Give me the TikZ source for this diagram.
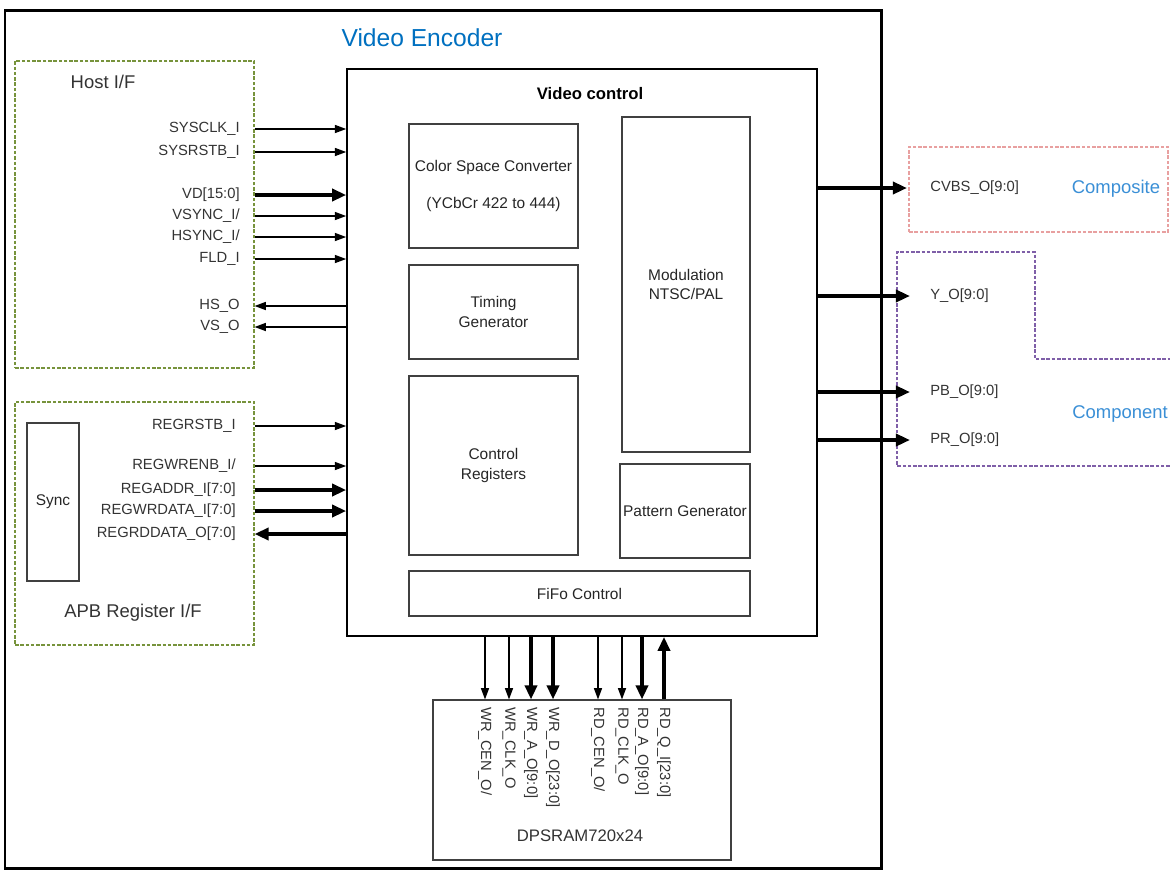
\documentclass[tikz,border=0pt]{standalone}
\usepackage{fontspec}
\setmainfont{Liberation Sans}
\usepackage{xcolor}
\usepackage{tikz}
\usetikzlibrary{arrows.meta,positioning,fit}

\definecolor{encblue}{HTML}{0070C0}
\definecolor{outblue}{HTML}{3A8FD6}
\definecolor{ifgreen}{HTML}{77933C}
\definecolor{cvbspink}{HTML}{E8A0A0}
\definecolor{cmppurple}{HTML}{7F5FA8}

\begin{document}
\begin{tikzpicture}[x=0.02cm, y=-0.02cm,
  blk/.style={draw=black!75, line width=0.6pt, inner sep=0pt},
  btxt/.style={align=center, inner sep=0pt, font=\fontsize{8.8}{11}\selectfont, text=black!85},
  ifbox/.style={draw=ifgreen, dash pattern=on 2pt off 1pt, line width=0.6pt, inner sep=0pt},
  ttl/.style={font=\fontsize{10.5}{12}\selectfont, text=black!80, inner sep=0pt},
  sig/.style={font=\fontsize{8.4}{10}\selectfont, text=black!80, inner sep=0pt},
  wire/.style={-{Triangle[length=6.5pt,width=4.6pt]}, line width=0.8pt},
  bus/.style={-{Triangle[length=8pt,width=6.8pt]}, line width=2.2pt}
]
\useasboundingbox (0,0) rectangle (1170,870);

% outer block
\node[fit={(5,10) (881,868)}, draw, line width=1.7pt, inner sep=0pt] (enc) {};
\node[font=\fontsize{14}{16}\selectfont, text=encblue] (enctitle) at (422,38) {Video Encoder};

% interfaces
\node[ifbox, fit={(15,61) (254,368)}] (hostif) {};
\node[ttl] (hosttitle) at (103,82) {Host I/F};
\node[ifbox, fit={(15,402) (254,645)}] (apbif) {};
\node[blk, fit={(27,423) (79,581)}] (sync) {};
\node[btxt] (synctxt) at (sync.center) {Sync};
\node[ttl] (apbtitle) at (133,613) {APB Register I/F};

% video control
\node[fit={(347,69) (817,636)}, draw, line width=0.9pt, inner sep=0pt] (vctrl) {};
\node[font=\bfseries\fontsize{9.5}{11}\selectfont] (vctitle) at (590,94) {Video control};
\node[blk, fit={(409,124) (578,248)}] (csc) {};
\node[blk, fit={(409,265) (578,359)}] (timing) {};
\node[blk, fit={(409,376) (578,555)}] (ctrlreg) {};
\node[blk, fit={(622,117) (750,452)}] (modul) {};
\node[blk, fit={(620,464) (750,558)}] (pattern) {};
\node[blk, fit={(409,571) (750,616)}] (fifo) {};
\node[btxt] (csctxt) at (csc.center) {Color Space Converter\\[10pt](YCbCr 422 to 444)};
\node[btxt] (timingtxt) at (timing.center) {Timing\\Generator};
\node[btxt] (ctrlregtxt) at (ctrlreg.center) {Control\\Registers};
\node[btxt] (modultxt) at (modul.center) {Modulation\\NTSC/PAL};
\node[btxt] (patterntxt) at (pattern.center) {Pattern Generator};
\node[btxt] (fifotxt) at (fifo.center) {FiFo Control};

% host signals
\node[sig, anchor=east] (sysclk) at (240,129) {SYSCLK\_I};
\node[sig, anchor=east] (sysrst) at (240,152) {SYSRSTB\_I};
\node[sig, anchor=east] (vd) at (240,195) {VD[15:0]};
\node[sig, anchor=east] (vsync) at (240,216) {VSYNC\_I/};
\node[sig, anchor=east] (hsync) at (240,237) {HSYNC\_I/};
\node[sig, anchor=east] (fld) at (240,259) {FLD\_I};
\node[sig, anchor=east] (hso) at (240,306) {HS\_O};
\node[sig, anchor=east] (vso) at (240,327) {VS\_O};

\draw[wire] (hostif.east |- sysclk) -- (vctrl.west |- sysclk);
\draw[wire] (hostif.east |- sysrst) -- (vctrl.west |- sysrst);
\draw[bus] (hostif.east |- vd) -- (vctrl.west |- vd);
\draw[wire] (hostif.east |- vsync) -- (vctrl.west |- vsync);
\draw[wire] (hostif.east |- hsync) -- (vctrl.west |- hsync);
\draw[wire] (hostif.east |- fld) -- (vctrl.west |- fld);
\draw[wire] (vctrl.west |- hso) -- (hostif.east |- hso);
\draw[wire] (vctrl.west |- vso) -- (hostif.east |- vso);

% register signals
\node[sig, anchor=east] (regrst) at (236,426) {REGRSTB\_I};
\node[sig, anchor=east] (regwren) at (236,466) {REGWRENB\_I/};
\node[sig, anchor=east] (regaddr) at (236,490) {REGADDR\_I[7:0]};
\node[sig, anchor=east] (regwrd) at (236,511) {REGWRDATA\_I[7:0]};
\node[sig, anchor=east] (regrdd) at (236,534) {REGRDDATA\_O[7:0]};

\draw[wire] (apbif.east |- regrst) -- (vctrl.west |- regrst);
\draw[wire] (apbif.east |- regwren) -- (vctrl.west |- regwren);
\draw[bus] (apbif.east |- regaddr) -- (vctrl.west |- regaddr);
\draw[bus] (apbif.east |- regwrd) -- (vctrl.west |- regwrd);
\draw[bus] (vctrl.west |- regrdd) -- (apbif.east |- regrdd);

% outputs
\node[fit={(909,147) (1168,232)}, draw=cvbspink, dash pattern=on 2pt off 1pt, line width=0.6pt, inner sep=0pt] (compbox) {};
\draw[cmppurple, dash pattern=on 2pt off 1pt, line width=0.7pt]
  (1175,466) -- (897,466) -- (897,252) -- (1035,252) -- (1035,359) -- (1175,359);
\node[ttl, text=outblue] (comptxt) at (1116,189) {Composite};
\node[ttl, text=outblue] (cmptxt) at (1120,414) {Component};

\node[sig, anchor=west] (cvbs) at (930,188) {CVBS\_O[9:0]};
\node[sig, anchor=west] (yo) at (930,296) {Y\_O[9:0]};
\node[sig, anchor=west] (pbo) at (930,392) {PB\_O[9:0]};
\node[sig, anchor=west] (pro) at (930,440) {PR\_O[9:0]};

\draw[bus] (vctrl.east |- cvbs) -- ([xshift=-0.46cm]cvbs.west);
\draw[bus] (vctrl.east |- yo) -- ([xshift=-0.4cm]yo.west);
\draw[bus] (vctrl.east |- pbo) -- ([xshift=-0.4cm]pbo.west);
\draw[bus] (vctrl.east |- pro) -- ([xshift=-0.4cm]pro.west);

% dual port sram
\node[blk, fit={(433,700) (731,860)}] (dpsram) {};
\node[font=\fontsize{9.5}{11}\selectfont, text=black!80] (dpsramtxt) at (580,836) {DPSRAM720x24};

\node[sig, rotate=-90, anchor=west] (wrcen) at (485,707) {WR\_CEN\_O/};
\node[sig, rotate=-90, anchor=west] (wrclk) at (509,707) {WR\_CLK\_O};
\node[sig, rotate=-90, anchor=west] (wra) at (531,707) {WR\_A\_O[9:0]};
\node[sig, rotate=-90, anchor=west] (wrd) at (553,707) {WR\_D\_O[23:0]};
\node[sig, rotate=-90, anchor=west] (rdcen) at (598,707) {RD\_CEN\_O/};
\node[sig, rotate=-90, anchor=west] (rdclk) at (622,707) {RD\_CLK\_O};
\node[sig, rotate=-90, anchor=west] (rda) at (642,707) {RD\_A\_O[9:0]};
\node[sig, rotate=-90, anchor=west] (rdq) at (664,707) {RD\_Q\_I[23:0]};

\draw[wire] (vctrl.south -| wrcen) -- (dpsram.north -| wrcen);
\draw[wire] (vctrl.south -| wrclk) -- (dpsram.north -| wrclk);
\draw[bus] (vctrl.south -| wra) -- (dpsram.north -| wra);
\draw[bus] (vctrl.south -| wrd) -- (dpsram.north -| wrd);
\draw[wire] (vctrl.south -| rdcen) -- (dpsram.north -| rdcen);
\draw[wire] (vctrl.south -| rdclk) -- (dpsram.north -| rdclk);
\draw[bus] (vctrl.south -| rda) -- (dpsram.north -| rda);
\draw[bus] (dpsram.north -| rdq) -- (vctrl.south -| rdq);
\end{tikzpicture}
\end{document}
